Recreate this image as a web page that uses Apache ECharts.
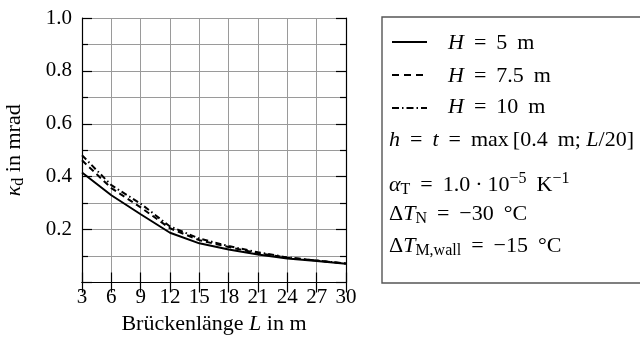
<!DOCTYPE html>
<html>
<head>
<meta charset="utf-8">
<script src="https://cdn.jsdelivr.net/npm/echarts@6/dist/echarts.min.js"></script>
<style>
  html, body { margin: 0; padding: 0; background: #fff; }
  #chart { width: 640px; height: 342px; }
</style>
</head>
<body>
<div id="chart"></div>
<script>
// Bridge length L in m
const spans = [3, 6, 9, 12, 15, 18, 21, 24, 27, 30];
// Curvature kappa_d in mrad for pier heights H
const kappaH5 = [0.416, 0.330, 0.258, 0.188, 0.148, 0.125, 0.106, 0.091, 0.081, 0.071];
const kappaH75 = [0.462, 0.357, 0.284, 0.205, 0.160, 0.134, 0.111, 0.094, 0.083, 0.072];
const kappaH10 = [0.481, 0.368, 0.298, 0.212, 0.166, 0.138, 0.114, 0.095, 0.083, 0.072];
const seriesNames = ['H = 5 m', 'H = 7.5 m', 'H = 10 m'];
const xTicks = [3, 30, 3];   // min, max, step
const yTicks = [0, 1, 0.2];  // min, max, step

const FONT = 'Liberation Serif';
const FS = 22;      // titles and legend text
const FS_TICK = 21; // tick labels
const GRID = '#9a9a9a';

function pairs(xs, ys) { return xs.map((x, i) => [x, ys[i]]); }

// Rich text pieces for the math-style notes
const richStyles = {
  i: { fontFamily: FONT, fontSize: FS, fontStyle: 'italic', fill: '#000' },
  eq: { fontFamily: FONT, fontSize: FS, fill: '#000', padding: [0, 10, 0, 10] },
  dot: { fontFamily: FONT, fontSize: FS, fill: '#000', padding: [0, 5, 0, 5] },
  gap: { fontFamily: FONT, fontSize: FS, fill: '#000', width: 10 },
  thin: { fontFamily: FONT, fontSize: FS, fill: '#000', width: 4 },
  sub: { fontFamily: FONT, fontSize: 16, fill: '#000', padding: [10, 0, 0, 0] },
  sup: { fontFamily: FONT, fontSize: 16, fill: '#000', padding: [0, 0, 12, 0] }
};

const chart = echarts.init(document.getElementById('chart'), null, { renderer: 'canvas' });

const baseX = { type: 'value', min: xTicks[0], max: xTicks[1], interval: xTicks[2] };
const baseY = { type: 'value', min: yTicks[0], max: yTicks[1], interval: yTicks[2] };

const lineStyles = [
  { type: 'solid' },
  { type: [6, 4] },
  { type: [6, 3, 1.5, 3] }
];
const dataSets = [kappaH5, kappaH75, kappaH10];

function note(x, y, text) {
  return {
    type: 'text', x: x, y: y,
    style: {
      text: text, fontFamily: FONT, fontSize: FS, fill: '#000',
      verticalAlign: 'middle', rich: richStyles
    }
  };
}

function sampleLine(y, dash) {
  return {
    type: 'line',
    shape: { x1: 392, y1: y, x2: 427, y2: y },
    style: { stroke: '#000', lineWidth: 2, lineDash: dash }
  };
}

const axisLineStyle = { show: true, lineStyle: { color: '#000', width: 1.2 } };
const majorTick = { show: true, inside: true, length: 10, lineStyle: { color: '#000', width: 1.2 } };
const minorTick = { show: true, splitNumber: 2, length: 6, lineStyle: { color: '#000', width: 1.2 } };

chart.setOption({
  animation: false,
  textStyle: { fontFamily: FONT },
  grid: { left: 82, right: 294, top: 18, bottom: 59.5, containLabel: false },
  xAxis: [
    Object.assign({}, baseX, {
      position: 'bottom',
      name: 'Brückenlänge {i|L} in m',
      nameLocation: 'middle', nameGap: 31,
      nameTextStyle: { fontFamily: FONT, fontSize: FS, color: '#000', rich: {
        i: { fontFamily: FONT, fontSize: FS, fontStyle: 'italic', color: '#000' } } },
      axisLine: axisLineStyle,
      axisTick: majorTick,
      axisLabel: { fontFamily: FONT, fontSize: FS_TICK, color: '#000', margin: 4 },
      splitLine: { show: true, lineStyle: { color: GRID, width: 1 } }
    }),
    Object.assign({}, baseX, {
      position: 'top',
      axisLine: axisLineStyle,
      axisTick: majorTick,
      axisLabel: { show: false },
      splitLine: { show: false }
    })
  ],
  yAxis: [
    Object.assign({}, baseY, {
      position: 'left',
      name: '{i|κ}{sub|d} in mrad',
      nameLocation: 'middle', nameGap: 55, nameRotate: 90,
      nameTextStyle: { fontFamily: FONT, fontSize: FS, color: '#000', rich: {
        i: { fontFamily: FONT, fontSize: FS, fontStyle: 'italic', color: '#000' },
        sub: { fontFamily: FONT, fontSize: 16, color: '#000', padding: [10, 0, 0, 0] } } },
      axisLine: axisLineStyle,
      axisTick: majorTick,
      minorTick: minorTick,
      axisLabel: {
        fontFamily: FONT, fontSize: FS_TICK, color: '#000', margin: 10,
        formatter: v => v === 0 ? '' : v.toFixed(1)
      },
      splitLine: { show: true, lineStyle: { color: GRID, width: 1 } },
      minorSplitLine: { show: true, lineStyle: { color: GRID, width: 1 } }
    }),
    Object.assign({}, baseY, {
      position: 'right',
      axisLine: axisLineStyle,
      axisTick: majorTick,
      minorTick: minorTick,
      axisLabel: { show: false },
      splitLine: { show: false }
    })
  ],
  series: dataSets.map((d, k) => ({
    name: seriesNames[k],
    type: 'line',
    xAxisIndex: 0, yAxisIndex: 0,
    data: pairs(spans, d),
    showSymbol: false,
    symbol: 'none',
    lineStyle: Object.assign({ color: '#000', width: 2 }, lineStyles[k]),
    z: 5 - k
  })),
  graphic: [
    {
      type: 'rect',
      shape: { x: 382, y: 17, width: 270, height: 266 },
      style: { fill: '#fff', stroke: '#555', lineWidth: 1.4 }
    },
    sampleLine(42, null),
    sampleLine(75, [7, 5]),
    sampleLine(108, [7, 3, 1.5, 3]),
    note(448, 43, '{i|H}{eq|=}5{gap| }m'),
    note(448, 76, '{i|H}{eq|=}7.5{gap| }m'),
    note(448, 107, '{i|H}{eq|=}10{gap| }m'),
    note(389, 140, '{i|h}{eq|=}{i|t}{eq|=}max{thin| }[0.4{gap| }m; {i|L}/20]'),
    note(389, 185, '{i|α}{sub|T}{eq|=}1.0{dot|·}10{sup|−5}{gap| }K{sup|−1}'),
    note(389, 214, 'Δ{i|T}{sub|N}{eq|=}−30{gap| }°C'),
    note(389, 246, 'Δ{i|T}{sub|M,wall}{eq|=}−15{gap| }°C')
  ]
});
</script>
</body>
</html>
